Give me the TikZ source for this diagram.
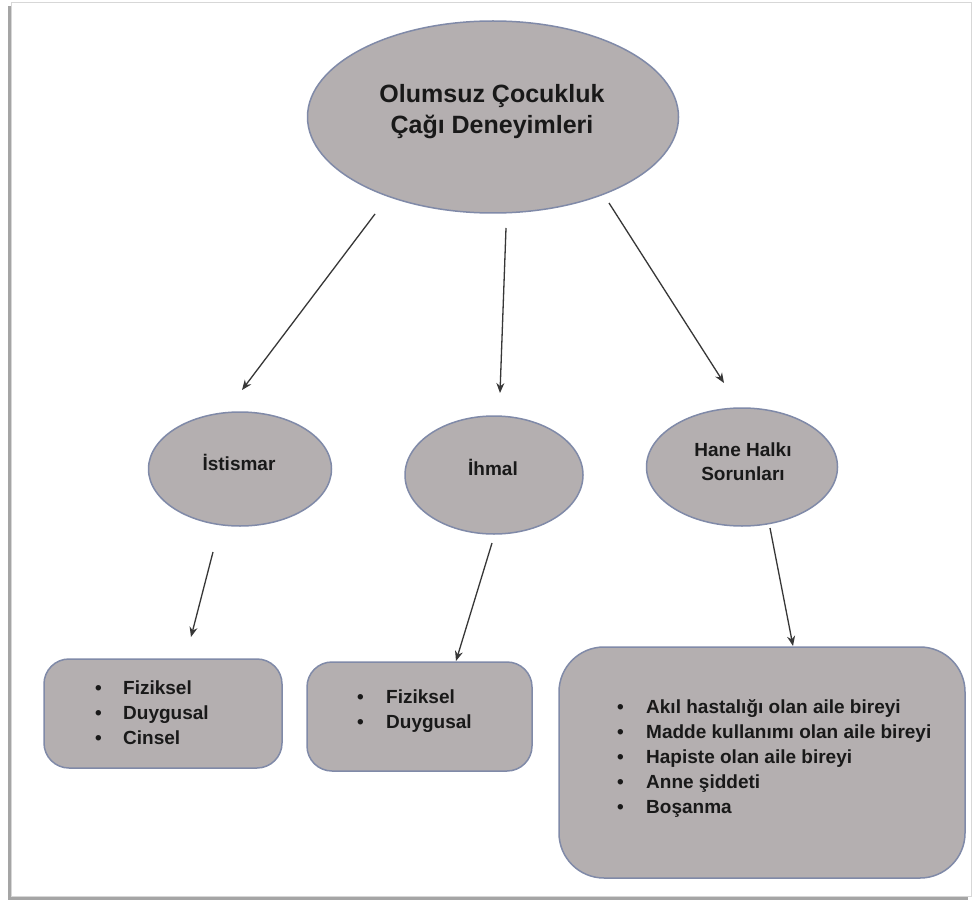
\documentclass[tikz,border=0pt]{standalone}
\usepackage{fontspec}
\setmainfont{Liberation Sans}
\usetikzlibrary{shapes.geometric,arrows.meta,calc}
\definecolor{nodefill}{RGB}{180,175,176}
\definecolor{nodeline}{RGB}{128,138,168}
\definecolor{arrowcol}{RGB}{55,55,55}
\definecolor{txt}{RGB}{25,25,25}
\definecolor{shadowcol}{RGB}{165,165,165}
\definecolor{framecol}{RGB}{215,215,215}
\begin{document}
\begin{tikzpicture}[x=1pt,y=-1pt,
  oval/.style={ellipse,draw=nodeline,fill=nodefill,line width=1.5pt,inner sep=0pt},
  listbox/.style={rectangle,rounded corners=#1,draw=nodeline,fill=nodefill,line width=1.5pt,inner sep=0pt},
  conn/.style={draw=arrowcol,line width=1.3pt,-{Stealth[length=10pt,width=8pt]}},
  lbl/.style={text=txt,font=\fontsize{19}{24}\selectfont\bfseries,align=center,inner sep=0pt,anchor=base},
  listtxt/.style={text=txt,font=\fontsize{19}{25}\selectfont\bfseries,align=left,inner sep=0pt,anchor=base west},
]
\useasboundingbox (0,0) rectangle (973,901);
% page frame with shadow
\fill[shadowcol] (8,6) rectangle (968,900);
\fill[white] (11,2) rectangle (971,896);
\draw[framecol,line width=0.8pt] (11,2) rectangle (971,896);

% top ellipse (text anchors are at the baseline of the last line)
\node[oval,minimum width=371pt,minimum height=192pt] (top) at (493,117) {};
\node[lbl,font=\fontsize{25}{31}\selectfont\bfseries] (toptxt) at (492,134) {Olumsuz Çocukluk\\Çağı Deneyimleri};

% middle ellipses
\node[oval,minimum width=183pt,minimum height=114pt] (ist) at (240,469) {};
\node[lbl] (isttxt) at (239,470) {İstismar};
\node[oval,minimum width=178pt,minimum height=118pt] (ihm) at (494,475) {};
\node[lbl] (ihmtxt) at (493,475) {İhmal};
\node[oval,minimum width=191pt,minimum height=118pt] (hane) at (742,467) {};
\node[lbl] (hanetxt) at (743,480) {Hane Halkı\\Sorunları};

% boxes
\node[listbox=25pt,minimum width=238pt,minimum height=109pt] (b1) at (163,713.5) {};
\node[listtxt] (b1txt) at (95,744) {\makebox[28pt][l]{•}Fiziksel\\\makebox[28pt][l]{•}Duygusal\\\makebox[28pt][l]{•}Cinsel};
\node[listbox=25pt,minimum width=225pt,minimum height=109pt] (b2) at (419.5,716.5) {};
\node[listtxt] (b2txt) at (357,728) {\makebox[29pt][l]{•}Fiziksel\\\makebox[29pt][l]{•}Duygusal};
\node[listbox=45pt,minimum width=406pt,minimum height=231pt] (b3) at (762,762.5) {};
\node[listtxt] (b3txt) at (617,813) {\makebox[29pt][l]{•}Akıl hastalığı olan aile bireyi\\\makebox[29pt][l]{•}Madde kullanımı olan aile bireyi\\\makebox[29pt][l]{•}Hapiste olan aile bireyi\\\makebox[29pt][l]{•}Anne şiddeti\\\makebox[29pt][l]{•}Boşanma};

% connector end points
\coordinate (a1s) at (375,214); \coordinate (a1e) at (242,390);
\coordinate (a2s) at (506,228); \coordinate (a2e) at (500,393);
\coordinate (a3s) at (609,203); \coordinate (a3e) at (724,383);
\coordinate (a4s) at (213,552); \coordinate (a4e) at (191,637);
\coordinate (a5s) at (492,543); \coordinate (a5e) at (456,661);
\coordinate (a6s) at (770,528); \coordinate (a6e) at (793,646);

\draw[conn] (a1s) -- (a1e);
\draw[conn] (a2s) -- (a2e);
\draw[conn] (a3s) -- (a3e);
\draw[conn] (a4s) -- (a4e);
\draw[conn] (a5s) -- (a5e);
\draw[conn] (a6s) -- (a6e);
\end{tikzpicture}
\end{document}
